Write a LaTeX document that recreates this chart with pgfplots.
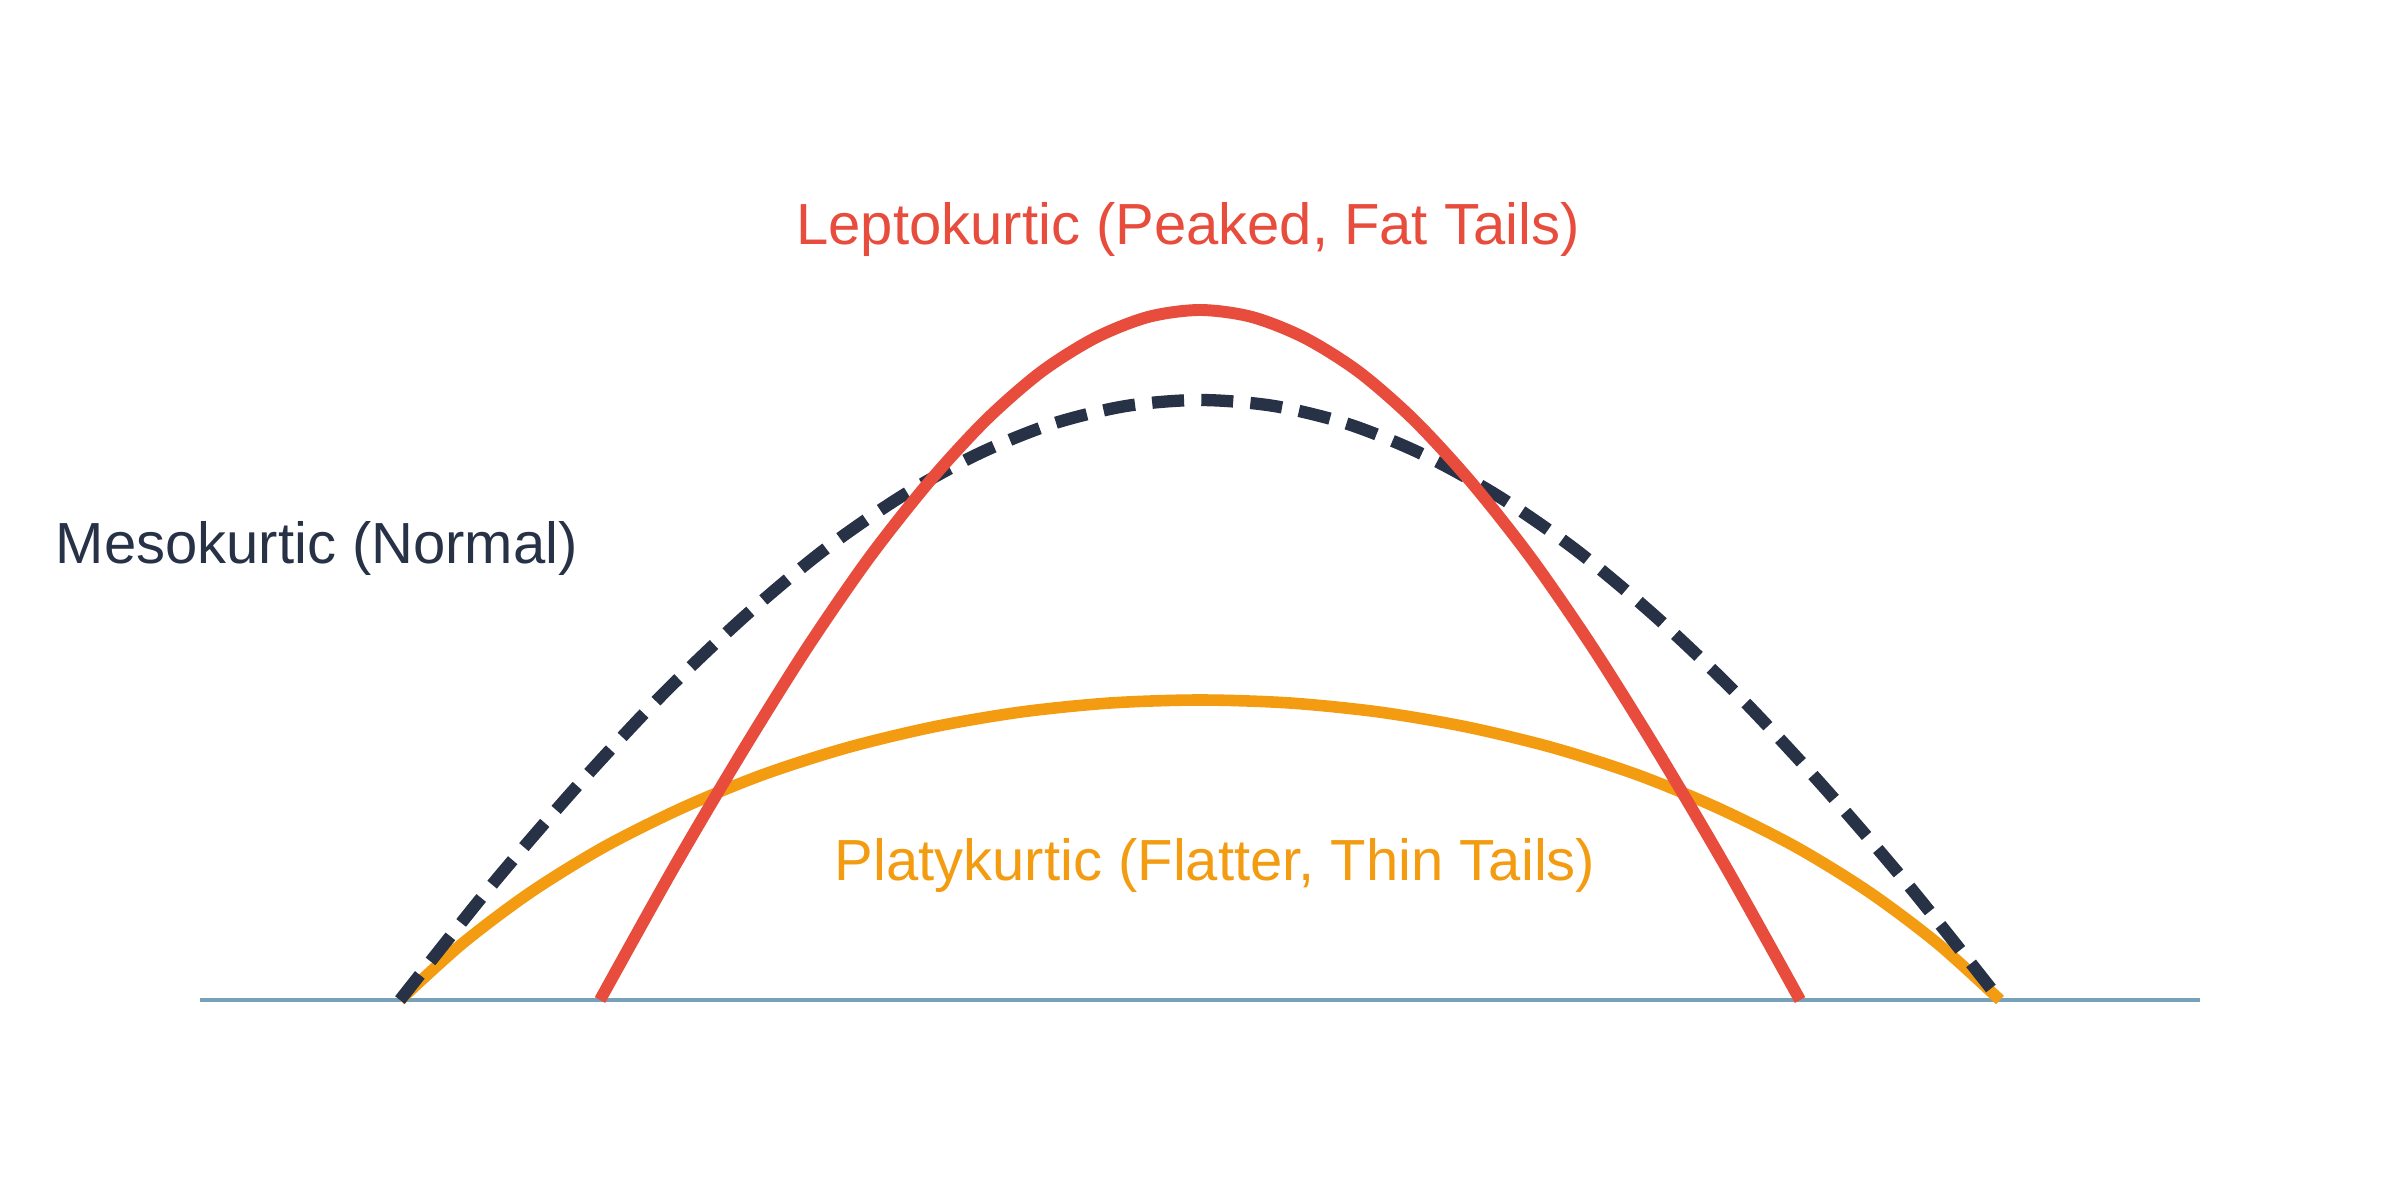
\documentclass[border=0pt]{standalone}
\usepackage{pgfplots}
\pgfplotsset{compat=1.18}
\usepackage{fontspec}
\setmainfont{Liberation Sans}

\definecolor{lepto}{HTML}{E74C3C}
\definecolor{meso}{HTML}{273246}
\definecolor{platy}{HTML}{F39C12}
\definecolor{base}{HTML}{76A1B8}

\begin{document}
\begin{tikzpicture}
\begin{axis}[
    scale only axis,
    width=24cm, height=12cm,
    xmin=0, xmax=2400, ymin=0, ymax=1200,
    hide axis, clip=false,
]
% invisible frame so the page keeps the full size
\path (rel axis cs:0,0) rectangle (rel axis cs:1,1);

% baseline
\addplot[base, line width=1.1pt] coordinates {(200,200) (2200,200)};

% platykurtic
\addplot[platy, line width=3.3pt, smooth] coordinates {
    (400,200) (463,257) (531,308) (604,353) (682,392) (762,425)
    (846,452) (933,473) (1021,488) (1110,497) (1200,500)
    (1290,497) (1379,488) (1467,473) (1554,452) (1638,425)
    (1718,392) (1796,353) (1869,308) (1937,257) (2000,200)
};

% mesokurtic
\addplot[meso, line width=3.5pt, smooth, dash pattern=on 9.1pt off 4.9pt] coordinates {
    (400,200) (491,314) (579,416) (663,506) (745,584) (824,650)
    (902,704) (978,746) (1052,776) (1126,794) (1200,800)
    (1274,794) (1348,776) (1422,746) (1498,704) (1576,650)
    (1655,584) (1737,506) (1821,416) (1909,314) (2000,200)
};

% leptokurtic
\addplot[lepto, line width=3.4pt, smooth] coordinates {
    (600,200) (673,331) (742,448) (807,552) (869,642) (929,718)
    (986,780) (1041,828) (1095,862) (1148,883) (1200,890)
    (1252,883) (1305,862) (1359,828) (1414,780) (1471,718)
    (1531,642) (1593,552) (1658,448) (1727,331) (1800,200)
};

\node[anchor=base, text=lepto, font=\fontsize{16.5}{19}\selectfont, inner sep=0pt]
    at (axis cs:1188,955) {Leptokurtic (Peaked, Fat Tails)};
\node[anchor=base west, text=meso, font=\fontsize{16.5}{19}\selectfont, inner sep=0pt]
    at (axis cs:55,637) {Mesokurtic (Normal)};
\node[anchor=base, text=platy, font=\fontsize{16.5}{19}\selectfont, inner sep=0pt]
    at (axis cs:1215,320) {Platykurtic (Flatter, Thin Tails)};
\end{axis}
\end{tikzpicture}
\end{document}
